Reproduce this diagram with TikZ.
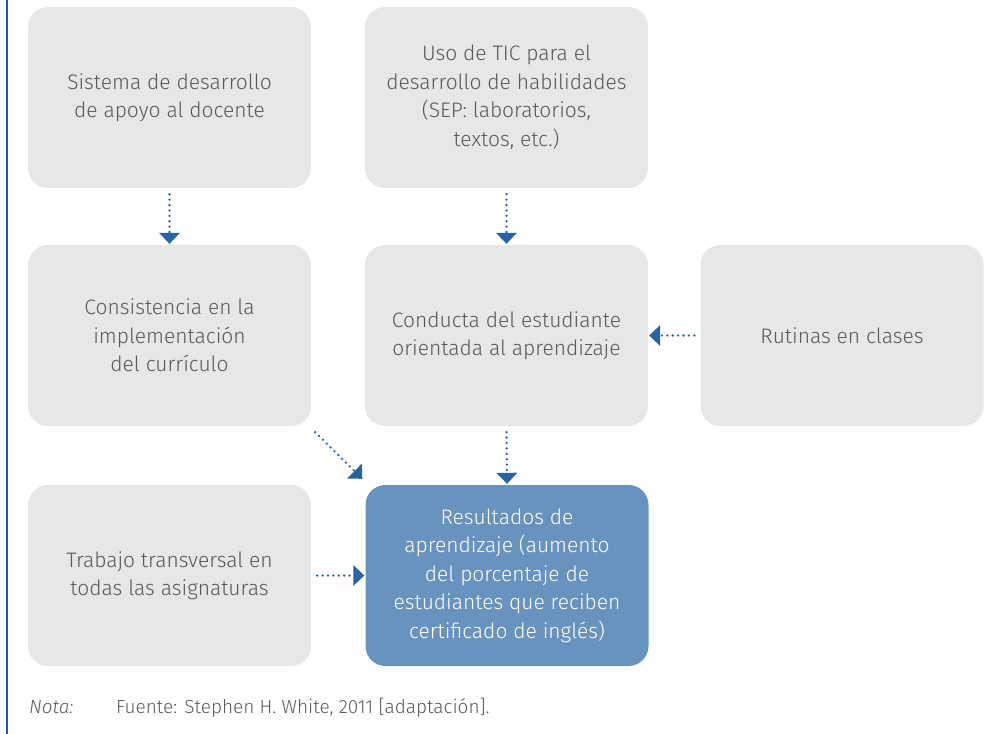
\documentclass[tikz,border=0pt]{standalone}
\usepackage{fontspec}
\setmainfont{Fira Sans Light}
\usetikzlibrary{arrows.meta}
\definecolor{boxgray}{HTML}{E6E7E8}
\definecolor{boxblue}{HTML}{6993BF}
\definecolor{arrblue}{HTML}{2A64A0}
\definecolor{txtgray}{HTML}{58595B}
\definecolor{lineblue}{HTML}{1F5AA6}
\tikzset{
  gbox/.style={fill=boxgray, rounded corners=20pt, minimum width=283pt, minimum height=181pt, inner sep=0pt, align=center, text=txtgray, font=\fontsize{21}{28.5}\selectfont},
  bbox/.style={gbox, fill=boxblue, text=white},
  darr/.style={draw=arrblue, line width=2.6pt, line cap=round, dash pattern=on 0pt off 5.4pt, -{Triangle[width=21pt,length=11pt,fill=arrblue,line width=0pt,round=false]}, shorten <=6pt, shorten >=1pt},
}
\begin{document}
\begin{tikzpicture}[x=1pt,y=-1pt]
\useasboundingbox (0,0) rectangle (1005,734);
\draw[lineblue, line width=1.5pt] (7,0) -- (7,734);
\node[gbox] (A) at (169.5,97.5) {Sistema de desarrollo\\de apoyo al docente};
\node[gbox] (B) at (506.5,97.5) {Uso de TIC para el\\desarrollo de habilidades\\(SEP: laboratorios,\\textos, etc.)};
\node[gbox] (C) at (169.5,335.5) {Consistencia en la\\implementación\\del currículo};
\node[gbox] (D) at (506.5,335.5) {Conducta del estudiante\\orientada al aprendizaje};
\node[gbox] (E) at (842,335.5) {Rutinas en clases};
\node[gbox] (F) at (169.5,575.5) {Trabajo transversal en\\todas las asignaturas};
\node[bbox] (G) at (507,575.5) {Resultados de\\aprendizaje (aumento\\del porcentaje de\\estudiantes que reciben\\certificado de inglés)};
\draw[darr] (A.south) -- (C.north);
\draw[darr] (B.south) -- (D.north);
\draw[darr] (D.south) -- (G.north);
\draw[darr] (E.west) -- (D.east);
\draw[darr] (F.east) -- (G.west);
\path (C.south east) ++(4,6) coordinate (c1) (G.north west) ++(-3,-6) coordinate (g1);
\draw[darr, shorten <=0pt, shorten >=0pt] (c1) -- (g1);
\node[anchor=base west, text=txtgray, font=\fontsize{19}{21}\selectfont\itshape, inner sep=0pt] (nota) at (29,713) {Nota:};
\node[anchor=base west, text=txtgray, font=\fontsize{19}{21}\selectfont, inner sep=0pt] (fuente) at (116,713) {Fuente: Stephen H. White, 2011 [adaptación].};
\end{tikzpicture}
\end{document}
